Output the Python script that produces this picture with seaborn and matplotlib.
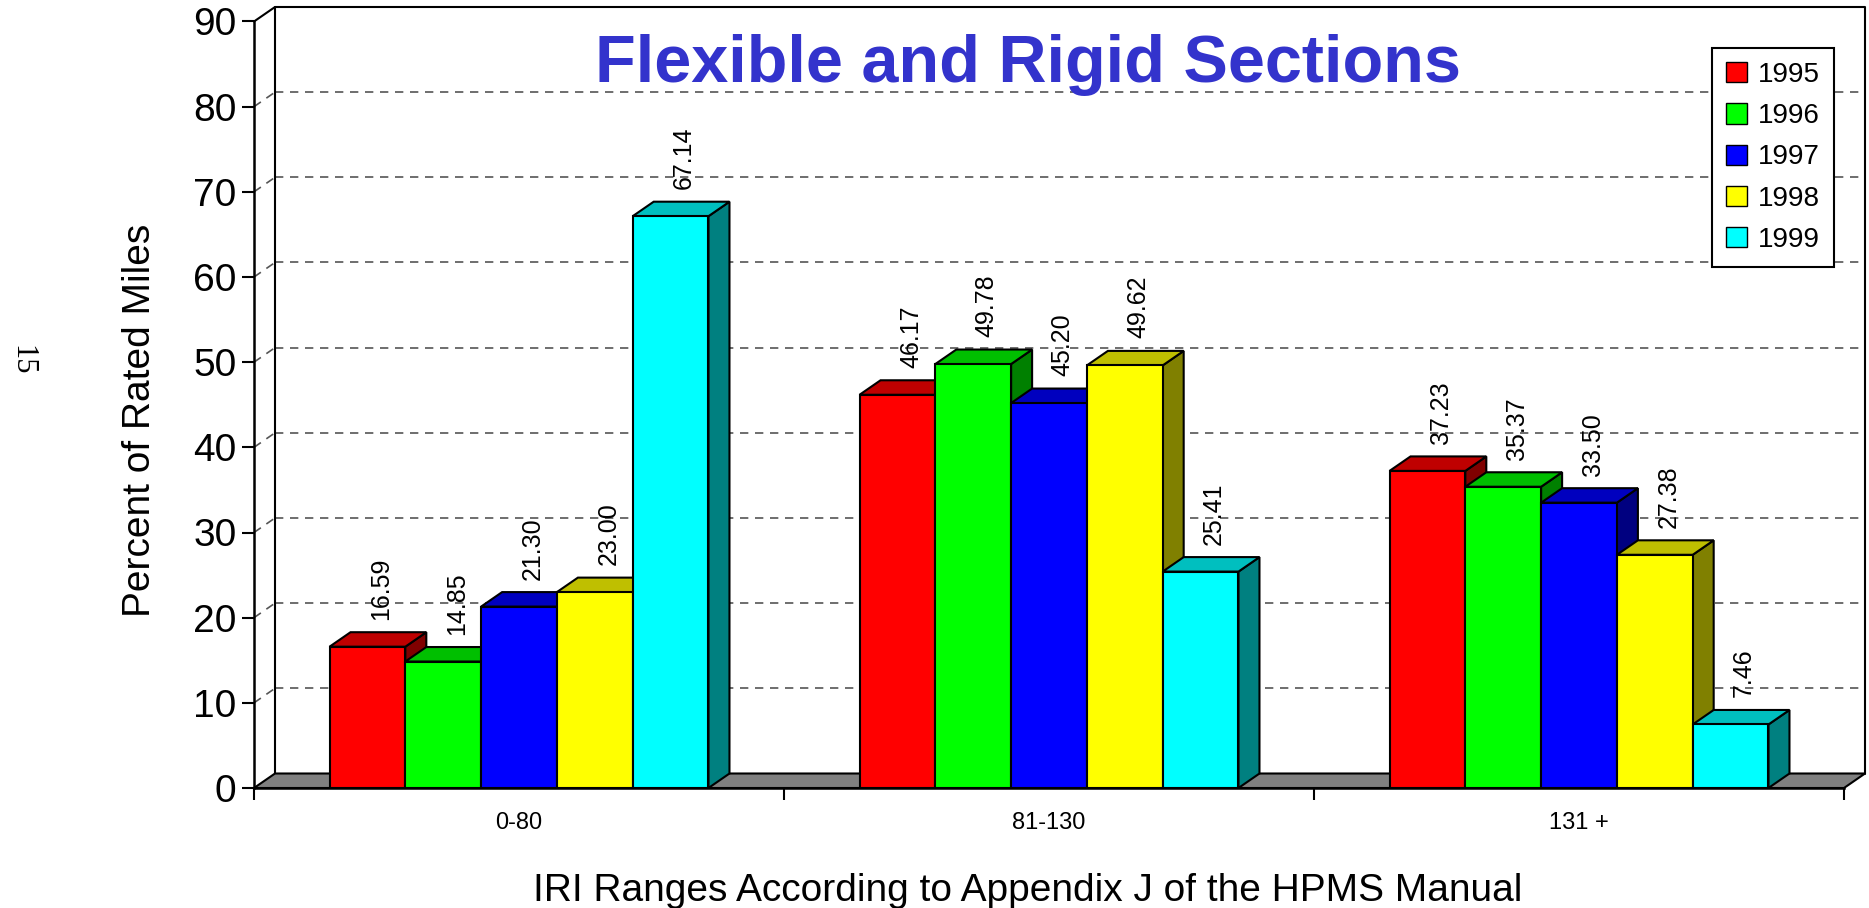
import numpy as np
import pandas as pd
import matplotlib
matplotlib.use('Agg')
import matplotlib.pyplot as plt
import matplotlib.transforms as mtransforms
from matplotlib.patches import Polygon, Patch
from matplotlib.colors import to_rgb
import seaborn as sns

# data
categories = ['0-80', '81-130', '131 +']
years = ['1995', '1996', '1997', '1998', '1999']
pct_1995 = [16.59, 46.17, 37.23]
pct_1996 = [14.85, 49.78, 35.37]
pct_1997 = [21.30, 45.20, 33.50]
pct_1998 = [23.00, 49.62, 27.38]
pct_1999 = [67.14, 25.41, 7.46]
colors = ['#FF0000', '#00FF00', '#0000FF', '#FFFF00', '#00FFFF']

rows = []
for yr, vals in zip(years, [pct_1995, pct_1996, pct_1997, pct_1998, pct_1999]):
    for cat, v in zip(categories, vals):
        rows.append({'range': cat, 'year': yr, 'pct': v})
df = pd.DataFrame(rows)

sns.set_style('white')
plt.rcParams['font.family'] = ['Liberation Sans', 'DejaVu Sans']
plt.rcParams['text.color'] = 'black'
plt.rcParams['axes.labelcolor'] = 'black'
plt.rcParams['xtick.color'] = 'black'
plt.rcParams['ytick.color'] = 'black'

W, H = 1869, 908
fig = plt.figure(figsize=(W / 100, H / 100), dpi=100)
L, R, B, T = 254, 1844, 788, 21.5
ax = fig.add_axes([L / W, 1 - B / H, (R - L) / W, (B - T) / H])

sns.barplot(data=df, x='range', y='pct', hue='year', order=categories,
            hue_order=years, palette=colors, saturation=1, width=0.715,
            errorbar=None, edgecolor='black', linewidth=1.5, legend=False,
            zorder=3, ax=ax)
ax.set_xlim(-0.5, 2.5)
ax.set_ylim(0, 90)

# 3d depth in pixels and in data units
DX, DY = 21, 14.5
ddx = DX / ((R - L) / 3.0)
ddy = DY / ((B - T) / 90.0)

# back wall, grid and floor
off = mtransforms.offset_copy(ax.transData, fig=fig, x=DX, y=DY, units='dots')
for v in range(10, 90, 10):
    ax.plot([-0.5, 2.5], [v, v], transform=off, ls=(0, (5, 4)), color='#555555',
            lw=1.2, zorder=0.5, clip_on=False)
    ax.plot([-0.5, -0.5 + ddx], [v, v + ddy], ls=(0, (5, 4)), color='#555555',
            lw=1.2, zorder=0.5, clip_on=False)
ax.plot([-0.5, -0.5, 2.5, 2.5], [0, 90, 90, 0], transform=off, color='black',
        lw=1.5, zorder=0.6, clip_on=False)
ax.plot([-0.5, -0.5 + ddx], [90, 90 + ddy], color='black', lw=1.5, clip_on=False)
ax.add_patch(Polygon([(-0.5, 0), (2.5, 0), (2.5 + ddx, ddy), (-0.5 + ddx, ddy)],
                     closed=True, fc='#808080', ec='black', lw=1.5, zorder=1,
                     clip_on=False))

# top and side faces of the bars
for container, c in zip(ax.containers, colors):
    rgb = np.array(to_rgb(c))
    for bar in container:
        x0, w, h = bar.get_x(), bar.get_width(), bar.get_height()
        ax.add_patch(Polygon([(x0 + w, 0), (x0 + w + ddx, ddy), (x0 + w + ddx, h + ddy), (x0 + w, h)],
                             closed=True, fc=rgb * 0.5, ec='black', lw=1.5, zorder=1.5))
        ax.add_patch(Polygon([(x0, h), (x0 + w, h), (x0 + w + ddx, h + ddy), (x0 + ddx, h + ddy)],
                             closed=True, fc=rgb * 0.75, ec='black', lw=1.5, zorder=2))
        ax.annotate(f'{h:.2f}', (x0 + w / 2, h), xytext=(DX / 2 + 3, 27),
                    textcoords='offset pixels', rotation=90, ha='center',
                    va='bottom', fontsize=18, zorder=4)

# axes styling
for s in ['top', 'right']:
    ax.spines[s].set_visible(False)
for s in ['left', 'bottom']:
    ax.spines[s].set_color('black')
    ax.spines[s].set_linewidth(1.8)
    ax.spines[s].set_zorder(5)

ax.set_yticks(range(0, 91, 10))
ax.tick_params(axis='y', left=True, direction='out', length=8.6, width=1.5,
               color='black', labelsize=28, pad=4)
ax.set_xticks([-0.5, 0.5, 1.5, 2.5], minor=True)
ax.tick_params(axis='x', which='major', bottom=True, length=0, labelsize=17, pad=17)
ax.tick_params(axis='x', which='minor', bottom=True, direction='out', length=8.6,
               width=1.5, color='black')

ax.set_xlabel('IRI Ranges According to Appendix J of the HPMS Manual', fontsize=28)
ax.xaxis.label.set_va('baseline')
ax.xaxis.set_label_coords((1028 - L) / (R - L), (B - 901) / (B - T))
ax.set_ylabel('Percent of Rated Miles', fontsize=28)
ax.yaxis.label.set_va('center')
ax.yaxis.set_label_coords((140 - L) / (R - L), (B - 420) / (B - T))

ax.set_title('Flexible and Rigid Sections', fontsize=48, fontweight='bold',
             color='#3333CC', x=(1028 - L) / (R - L), y=(B - 82) / (B - T),
             va='baseline', pad=0)

handles = [Patch(fc=c, ec='black', lw=1) for c in colors]
leg = ax.legend(handles, years, loc='upper left',
                bbox_to_anchor=(1712 / W, 1 - 48 / H), bbox_transform=fig.transFigure,
                borderaxespad=0, fontsize=20, handlelength=0.75, handleheight=0.75,
                handletextpad=0.4, labelspacing=0.55, borderpad=0.5,
                fancybox=False, framealpha=1)
leg.get_frame().set_edgecolor('black')
leg.get_frame().set_linewidth(1.5)
leg.set_zorder(6)

fig.text(22 / W, 1 - 360 / H, '15', rotation=-90, family='Liberation Serif',
         fontsize=22, ha='center', va='center')

fig.savefig('out.png', dpi=100)
